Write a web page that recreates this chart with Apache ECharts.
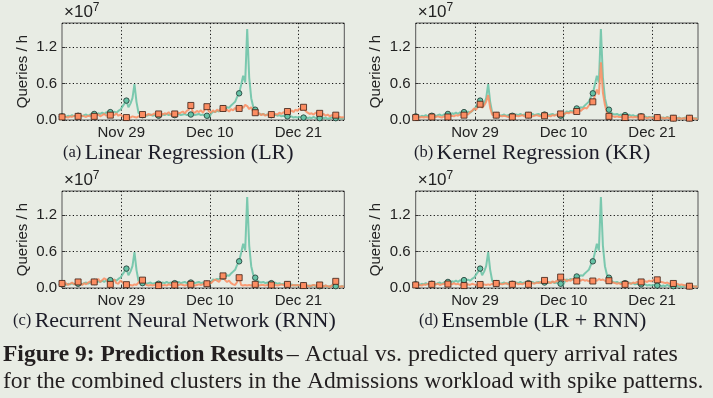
<!DOCTYPE html>
<html>
<head>
<meta charset="utf-8">
<script src="https://cdn.jsdelivr.net/npm/echarts@6/dist/echarts.min.js"></script>
<style>
html,body{margin:0;padding:0;background:#e8ece4;}
#c{width:713px;height:398px;}
</style>
</head>
<body>
<div id="c"></div>
<script>
// time axis: days since Nov 1 (Nov 29 = 28), one sample every 6 hours
const START_DAY = 20.64;
const STEP_DAYS = 0.25;
const tickDays = [28, 39, 50];
const tickLabels = ['Nov 29', 'Dec 10', 'Dec 21'];

// values in units of 1e7 queries / h
const actual = [
0.06,0.07,0.05,0.07,0.06,0.08,0.06,0.07,0.07,
0.08,0.06,0.08,0.09,0.07,0.09,0.10,0.10,
0.09,0.11,0.10,0.12,0.10,0.13,0.11,0.13,
0.12,0.14,0.12,0.15,0.17,0.22,0.27,
0.32,0.21,0.27,0.36,0.59,0.30,0.12,0.09,
0.08,0.09,0.07,0.08,0.09,0.07,0.08,0.09,
0.07,0.08,0.09,0.08,0.10,0.08,0.09,0.08,
0.08,0.09,0.10,0.08,0.09,0.10,0.08,0.09,
0.09,0.10,0.08,0.09,0.10,0.08,0.09,0.07,
0.07,0.03,0.10,0.14,0.13,0.15,0.14,0.17,
0.19,0.18,0.21,0.20,0.24,0.27,0.30,0.38,
0.44,0.58,0.73,0.62,1.50,0.70,0.36,0.22,
0.17,0.12,0.10,0.09,0.10,0.08,0.09,0.08,
0.08,0.07,0.09,0.07,0.08,0.06,0.07,0.06,
0.06,0.05,0.06,0.04,0.05,0.04,0.05,0.04,
0.04,0.05,0.03,0.04,0.03,0.05,0.03,0.04,
0.03,0.04,0.03,0.04,0.02,0.03,0.04,0.03,
0.03,0.04,0.02,0.03,0.03
];
const predLR = [
0.05,0.06,0.05,0.04,0.06,0.05,0.07,0.05,0.06,
0.05,0.07,0.06,0.05,0.07,0.06,0.08,0.06,
0.07,0.09,0.06,0.08,0.10,0.07,0.09,0.08,
0.10,0.08,0.11,0.07,0.09,0.06,0.05,
0.04,0.05,0.04,0.06,0.05,0.04,0.06,0.07,
0.09,0.07,0.08,0.10,0.08,0.09,0.11,0.08,
0.10,0.12,0.09,0.11,0.10,0.13,0.09,0.11,
0.10,0.13,0.11,0.12,0.14,0.11,0.15,0.17,
0.24,0.13,0.12,0.15,0.13,0.16,0.12,0.18,
0.22,0.14,0.12,0.16,0.13,0.17,0.15,0.18,
0.19,0.15,0.17,0.14,0.18,0.16,0.20,0.17,
0.19,0.22,0.20,0.25,0.23,0.18,0.21,0.14,
0.12,0.10,0.11,0.08,0.10,0.07,0.09,0.08,
0.09,0.08,0.10,0.09,0.12,0.10,0.13,0.11,
0.14,0.12,0.16,0.13,0.17,0.15,0.19,0.16,
0.21,0.15,0.12,0.10,0.11,0.09,0.12,0.10,
0.11,0.08,0.10,0.07,0.09,0.06,0.08,0.07,
0.08,0.06,0.05,0.04,0.05
];
const predKR = [
0.04,0.05,0.04,0.05,0.04,0.05,0.04,0.05,0.05,
0.04,0.05,0.06,0.05,0.04,0.06,0.05,0.05,
0.06,0.07,0.06,0.08,0.07,0.09,0.08,0.08,
0.10,0.09,0.13,0.15,0.19,0.17,0.22,
0.26,0.20,0.24,0.30,0.41,0.20,0.09,0.07,
0.08,0.06,0.07,0.06,0.07,0.06,0.05,0.06,
0.05,0.06,0.07,0.06,0.07,0.08,0.06,0.07,
0.08,0.07,0.06,0.07,0.08,0.07,0.06,0.07,
0.07,0.06,0.07,0.06,0.08,0.07,0.09,0.08,
0.10,0.08,0.10,0.12,0.11,0.13,0.12,0.14,
0.14,0.16,0.15,0.18,0.20,0.19,0.24,0.27,
0.30,0.40,0.50,0.42,0.95,0.45,0.25,0.12,
0.06,0.07,0.06,0.05,0.06,0.05,0.05,0.04,
0.04,0.05,0.04,0.05,0.04,0.05,0.04,0.05,
0.05,0.04,0.04,0.03,0.04,0.04,0.03,0.04,
0.04,0.03,0.04,0.03,0.03,0.04,0.03,0.03,
0.03,0.02,0.03,0.03,0.02,0.03,0.03,0.02,
0.03,0.02,0.03,0.02,0.02
];
const predRNN = [
0.075,0.06,0.08,0.05,0.07,0.09,0.06,0.08,0.10,
0.07,0.05,0.08,0.06,0.09,0.11,0.07,0.10,
0.12,0.15,0.10,0.13,0.16,0.14,0.09,0.06,
0.11,0.14,0.08,0.07,0.12,0.10,0.05,
0.055,0.04,0.05,0.04,0.06,0.05,0.09,0.13,
0.13,0.08,0.05,0.04,0.05,0.04,0.05,0.04,
0.04,0.05,0.04,0.05,0.04,0.06,0.05,0.04,
0.05,0.04,0.05,0.06,0.05,0.04,0.05,0.06,
0.06,0.05,0.04,0.05,0.06,0.05,0.06,0.07,
0.07,0.10,0.08,0.11,0.14,0.12,0.10,0.15,
0.20,0.13,0.10,0.12,0.08,0.06,0.05,0.10,
0.17,0.05,0.04,0.05,0.04,0.05,0.04,0.05,
0.06,0.05,0.04,0.05,0.05,0.04,0.05,0.06,
0.05,0.04,0.05,0.04,0.05,0.06,0.05,0.05,
0.06,0.05,0.04,0.05,0.04,0.05,0.04,0.04,
0.04,0.03,0.04,0.03,0.04,0.05,0.04,0.05,
0.05,0.04,0.03,0.04,0.03,0.02,0.04,0.06,
0.11,0.04,0.02,0.03,0.02
];
const predEns = [
0.05,0.06,0.05,0.04,0.06,0.05,0.07,0.05,0.06,
0.05,0.06,0.07,0.05,0.06,0.07,0.05,0.065,
0.07,0.06,0.08,0.06,0.07,0.05,0.06,0.04,
0.05,0.06,0.05,0.07,0.06,0.05,0.06,
0.058,0.05,0.06,0.05,0.06,0.05,0.07,0.06,
0.075,0.06,0.07,0.06,0.07,0.08,0.06,0.07,
0.06,0.07,0.08,0.06,0.07,0.06,0.08,0.07,
0.06,0.07,0.08,0.07,0.09,0.08,0.10,0.09,
0.125,0.09,0.10,0.08,0.11,0.09,0.12,0.10,
0.18,0.12,0.14,0.11,0.13,0.12,0.15,0.13,
0.115,0.13,0.12,0.14,0.12,0.13,0.11,0.12,
0.115,0.13,0.12,0.15,0.13,0.14,0.12,0.11,
0.12,0.10,0.09,0.08,0.07,0.08,0.06,0.07,
0.06,0.07,0.08,0.07,0.09,0.08,0.10,0.09,
0.10,0.09,0.11,0.10,0.12,0.11,0.13,0.12,
0.135,0.11,0.10,0.09,0.08,0.09,0.07,0.08,
0.075,0.06,0.07,0.05,0.06,0.05,0.04,0.05,
0.03,0.04,0.03,0.02,0.03
];
const MARK_EVERY = 8;

const panels = [
  {pred: predLR,  tag: '(a)', title: 'Linear Regression (LR)', left: 62, top: 23, tx: 63},
  {pred: predKR,  tag: '(b)', title: 'Kernel Regression (KR)', left: 415.7, top: 23, tx: 414},
  {pred: predRNN, tag: '(c)', title: 'Recurrent Neural Network (RNN)', left: 62, top: 191, tx: 13},
  {pred: predEns, tag: '(d)', title: 'Ensemble (LR + RNN)', left: 415.7, top: 191, tx: 419}
];
const PW = 282.3, PH = 97;
const X_MIN = 20.64, X_MAX = 55.7, Y_MAX = 1.6;
const GREEN = '#66c2a5', ORANGE = '#fc8d62';
const SANS = 'Liberation Sans, Arial, sans-serif';
const SERIF = 'Liberation Serif, Times New Roman, serif';

const toXY = arr => arr.map((v, i) => [START_DAY + i * STEP_DAYS, v]);

const grid = [], xAxis = [], yAxis = [], series = [], graphic = [];
panels.forEach((p, k) => {
  grid.push({left: p.left, top: p.top, width: PW, height: PH, show: true,
    borderColor: '#555', borderWidth: 1, backgroundColor: 'transparent', containLabel: false});
  xAxis.push({type: 'value', gridIndex: k, min: X_MIN, max: X_MAX,
    axisLine: {show: false},
    axisTick: {show: true, inside: true, length: 3, lineStyle: {color: '#333'}, customValues: tickDays},
    axisLabel: {customValues: tickDays, margin: 5, color: '#222', fontFamily: SANS, fontSize: 15,
      formatter: v => tickLabels[tickDays.indexOf(Math.round(v))] || ''},
    splitLine: {show: true, lineStyle: {color: '#111', type: [1.2, 2.4], width: 1}}
  });
  yAxis.push({type: 'value', gridIndex: k, min: 0, max: Y_MAX, interval: 0.6,
    name: 'Queries / h', nameLocation: 'middle', nameGap: 32, nameRotate: 90,
    nameTextStyle: {color: '#222', fontFamily: SANS, fontSize: 15},
    axisLine: {show: false},
    axisTick: {show: true, inside: true, length: 3, lineStyle: {color: '#333'}},
    axisLabel: {margin: 5, color: '#222', fontFamily: SANS, fontSize: 15, showMaxLabel: false,
      formatter: v => v.toFixed(1)},
    splitLine: {show: true, lineStyle: {color: '#111', type: [1.2, 2.4], width: 1}}
  });
  series.push({type: 'line', xAxisIndex: k, yAxisIndex: k, data: toXY(actual),
    showAllSymbol: true,
    symbol: (v, prm) => (prm.dataIndex % MARK_EVERY === 0 ? 'circle' : 'none'),
    symbolSize: 5.5,
    itemStyle: {color: GREEN, borderColor: '#1e3530', borderWidth: 0.8},
    lineStyle: {color: GREEN, width: 2, opacity: 0.85},
    animation: false, silent: true});
  series.push({type: 'line', xAxisIndex: k, yAxisIndex: k, data: toXY(p.pred),
    showAllSymbol: true,
    symbol: (v, prm) => (prm.dataIndex % MARK_EVERY === 0 ? 'rect' : 'none'),
    symbolSize: 6,
    itemStyle: {color: ORANGE, borderColor: '#3a1e14', borderWidth: 0.8},
    lineStyle: {color: ORANGE, width: 2, opacity: 0.85},
    animation: false, silent: true});
  // x10^7 multiplier
  graphic.push({type: 'text', left: p.left + 2, top: p.top - 21,
    style: {text: '×10{s|7}', font: '17px ' + SANS, fill: '#222',
      rich: {s: {fontSize: 12, fontFamily: SANS, fill: '#222', verticalAlign: 'top', padding: [0,0,8,0]}}}});
  // subtitle
  graphic.push({type: 'text', x: p.tx, y: p.top + PH + 33,
    style: {text: '{t|' + p.tag + '} {m|' + p.title + '}', textAlign: 'left', textVerticalAlign: 'middle',
      rich: {t: {fontSize: 16.5, fontFamily: SERIF, fill: '#1c1c28'},
             m: {fontSize: 22, fontFamily: SERIF, fill: '#1c1c28'}}}});
});
graphic.push({type: 'text', x: 3, y: 355,
  style: {text: '{b|Figure 9: Prediction Results} {r|– Actual vs. predicted query arrival rates}',
    textVerticalAlign: 'middle',
    rich: {b: {fontSize: 23.5, fontWeight: 'bold', fontFamily: SERIF, fill: '#231f20'},
           r: {fontSize: 24, fontFamily: SERIF, fill: '#231f20'}}}});
graphic.push({type: 'text', x: 3, y: 382,
  style: {text: 'for the combined clusters in the Admissions workload with spike patterns.',
    textVerticalAlign: 'middle', font: '23.6px ' + SERIF, fill: '#231f20'}});

const chart = echarts.init(document.getElementById('c'), null, {renderer: 'canvas'});
chart.setOption({backgroundColor: '#e8ece4', animation: false, grid, xAxis, yAxis, series, graphic});
</script>
</body>
</html>
